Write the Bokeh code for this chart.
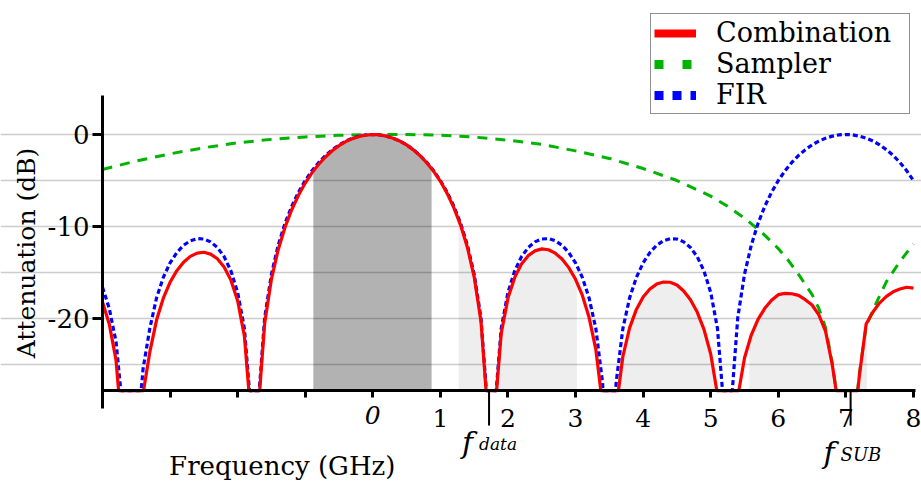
import numpy as np
from math import pi
from bokeh.plotting import figure
from bokeh.models import Range1d, FixedTicker, Label, Legend, LegendItem
from bokeh.embed import file_html
from bokeh.resources import INLINE

# ---------------- data ----------------
freq = [-4.0, -3.9, -3.8, -3.7, -3.6, -3.5, -3.4, -3.3, -3.2, -3.1,
        -3.0, -2.9, -2.8, -2.7, -2.6, -2.5, -2.4, -2.3, -2.2, -2.1,
        -2.0, -1.9, -1.8, -1.7, -1.6, -1.5, -1.4, -1.3, -1.2, -1.1,
        -1.0, -0.9, -0.8, -0.7, -0.6, -0.5, -0.4, -0.3, -0.2, -0.1,
        0.0, 0.1, 0.2, 0.3, 0.4, 0.5, 0.6, 0.7, 0.8, 0.9,
        1.0, 1.1, 1.2, 1.3, 1.4, 1.5, 1.6, 1.7, 1.8, 1.9,
        2.0, 2.1, 2.2, 2.3, 2.4, 2.5, 2.6, 2.7, 2.8, 2.9,
        3.0, 3.1, 3.2, 3.3, 3.4, 3.5, 3.6, 3.7, 3.8, 3.9,
        4.0, 4.1, 4.2, 4.3, 4.4, 4.5, 4.6, 4.7, 4.8, 4.9,
        5.0, 5.1, 5.2, 5.3, 5.4, 5.5, 5.6, 5.7, 5.8, 5.9,
        6.0, 6.1, 6.2, 6.3, 6.4, 6.5, 6.6, 6.7, 6.8, 6.9,
        7.0, 7.1, 7.2, 7.3, 7.4, 7.5, 7.6, 7.7, 7.8, 7.9, 8.0]

fir_db = [-16.6, -18.9, -22.5, -30.0, -45.0, -34.0, -25.5, -21.09, -17.76, -15.53,
          -13.96, -12.83, -12.04, -11.55, -11.32, -11.36, -11.67, -12.28, -13.28, -14.82,
          -17.16, -21.08, -30.17, -29.78, -19.91, -15.19, -12.04, -9.67, -7.81, -6.28,
          -5.01, -3.94, -3.04, -2.28, -1.65, -1.13, -0.71, -0.40, -0.18, -0.04,
          0.0, -0.04, -0.18, -0.40, -0.71, -1.13, -1.65, -2.28, -3.04, -3.94,
          -5.01, -6.28, -7.81, -9.67, -12.04, -15.19, -19.91, -29.78, -30.17, -21.08,
          -17.16, -14.82, -13.28, -12.28, -11.67, -11.36, -11.32, -11.55, -12.04, -12.83,
          -13.96, -15.53, -17.76, -21.09, -27.00, -45.0, -27.00, -21.09, -17.76, -15.53,
          -13.96, -12.83, -12.04, -11.55, -11.32, -11.36, -11.67, -12.28, -13.28, -14.82,
          -17.16, -21.08, -30.17, -29.78, -19.91, -15.19, -12.04, -9.67, -7.81, -6.28,
          -5.01, -3.94, -3.04, -2.28, -1.65, -1.13, -0.71, -0.40, -0.18, -0.04,
          0.0, -0.04, -0.18, -0.40, -0.71, -1.13, -1.65, -2.28, -3.04, -3.94, -5.01]

comb_db = [-18.2, -20.6, -24.5, -33.2, -48.1, -36.9, -28.2, -23.66, -20.17, -17.79,
           -16.06, -14.80, -13.88, -13.25, -12.89, -12.80, -13.00, -13.50, -14.40, -15.83,
           -18.06, -21.91, -30.92, -30.46, -20.51, -15.72, -12.52, -10.10, -8.18, -6.60,
           -5.28, -4.17, -3.23, -2.44, -1.77, -1.21, -0.77, -0.45, -0.21, -0.06,
           0.0, -0.04, -0.18, -0.40, -0.71, -1.13, -1.67, -2.31, -3.09, -4.00,
           -5.09, -6.40, -7.97, -9.87, -12.28, -15.47, -20.26, -30.20, -30.65, -21.63,
           -17.78, -15.53, -14.08, -13.17, -12.65, -12.43, -12.53, -12.90, -13.54, -14.47,
           -15.74, -17.47, -19.87, -23.36, -29.44, -47.6, -29.82, -24.13, -21.02, -19.01,
           -17.66, -16.79, -16.26, -16.03, -16.06, -16.36, -17.01, -17.96, -19.30, -21.18,
           -23.86, -28.26, -37.83, -37.92, -28.53, -24.29, -21.80, -20.09, -18.89, -18.02,
           -17.41, -17.27, -17.31, -17.48, -17.95, -18.53, -19.61, -21.40, -25.08, -30.04,
           -45.0, -33.0, -26.2, -20.6, -19.3, -18.3, -17.6, -17.1, -16.8, -16.6, -16.7]

samp_freq = [-4.0, -3.5, -3.0, -2.5, -2.0, -1.5, -1.0, -0.5, 0.0, 0.5,
             1.0, 1.5, 2.0, 2.5, 3.0, 3.5, 4.0, 4.5, 5.0, 5.25,
             5.5, 5.75, 6.0, 6.15, 6.3, 6.5, 6.6, 6.7, 6.8, 6.9,
             7.0, 7.1, 7.2, 7.3, 7.45, 7.6, 7.8, 8.0]
samp_db = [-3.8, -2.88, -2.1, -1.44, -0.9, -0.53, -0.27, -0.08, 0.0, 0.0,
           -0.08, -0.28, -0.62, -1.07, -1.78, -2.6, -3.7, -5.0, -6.7, -7.8,
           -9.1, -10.6, -12.4, -13.7, -15.2, -17.4, -18.9, -21.0, -24.9, -30.0,
           -45.0, -33.0, -26.0, -20.8, -18.3, -16.0, -13.8, -11.9]

pass_band = (-0.88, 0.87)
alias_bands = [(1.27, 3.02), (3.42, 5.16), (5.57, 7.31)]

x_ticks = [-4, -3, -2, -1, 0, 1, 2, 3, 4, 5, 6, 7, 8]
x_hidden_labels = [-4, -3, -2, -1, 0]
y_ticks = [-20, -10, 0]
y_tick_labels = {-20: "-20", -10: "-10", 0: "0"}
y_grid = [-25, -20, -15, -10, -5, 0]
f_data = 1.72
f_sub = 7.07

series_names = ["Combination", "Sampler", "FIR"]
colors = {"Combination": "#ff0000", "Sampler": "#00b300", "FIR": "#0000ff"}

# ---------------- figure geometry ----------------
# the frame covers the whole canvas; axes are fixed inside it
X_MIN, X_MAX = -5.509, 8.119
Y_MIN, Y_MAX = -38.26, 14.565
AX_Y = -27.83        # level of the x axis (bottom of the plotted area)
AX_X = -4.0          # level of the y axis
PX_PER_DB = 9.2
SERIF = "DejaVu Serif"
TXT_UP = 9           # pixel lift applied to free text labels

p = figure(width=921, height=486,
           x_range=Range1d(X_MIN, X_MAX), y_range=Range1d(Y_MIN, Y_MAX),
           output_backend="svg", toolbar_location=None,
           min_border_left=0, min_border_right=0,
           min_border_top=0, min_border_bottom=0)
p.outline_line_color = None
p.background_fill_color = "white"
p.border_fill_color = "white"
p.xgrid.visible = False
p.ygrid.ticker = FixedTicker(ticks=y_grid)
p.ygrid.bounds = (AX_X, 8.1)
p.ygrid.grid_line_color = "#cccccc"
p.ygrid.grid_line_width = 1.5


def clamp_line(xs, ys, ybot):
    """Keep a polyline above ybot: insert crossing points, flatten below."""
    ox, oy = [], []
    for i in range(len(xs)):
        if i > 0:
            y0, y1 = ys[i - 1], ys[i]
            if (y0 - ybot) * (y1 - ybot) < 0:
                t = (ybot - y0) / (y1 - y0)
                ox.append(xs[i - 1] + t * (xs[i] - xs[i - 1]))
                oy.append(ybot)
        ox.append(xs[i])
        oy.append(max(ys[i], ybot))
    return ox, oy


cx, cy = clamp_line(freq, comb_db, AX_Y)
fx_, fy_ = clamp_line(freq, fir_db, AX_Y)
sx_, sy_ = clamp_line(samp_freq, samp_db, AX_Y)

# shaded bands under the combination curve
cxa = np.array(cx)
cya = np.array(cy)


def band(a, b):
    inner = cxa[(cxa > a) & (cxa < b)]
    xs = np.concatenate([[a], inner, [b]])
    ys = np.interp(xs, cxa, cya)
    return xs, ys


for a, b in alias_bands:
    xs, ys = band(a, b)
    p.varea(x=xs, y1=AX_Y, y2=ys, fill_color="black", fill_alpha=0.065)
xs, ys = band(*pass_band)
p.varea(x=xs, y1=AX_Y, y2=ys, fill_color="black", fill_alpha=0.3)

# curves
p.line(sx_, sy_, line_color=colors["Sampler"], line_width=3, line_dash="10 8")
p.line(fx_, fy_, line_color=colors["FIR"], line_width=3.2, line_dash="5 3")
p.line(cx, cy, line_color=colors["Combination"], line_width=3.2)

# f_data / f_SUB marker strokes below the axis
mark_len_db = 35 / PX_PER_DB
p.segment(x0=[f_data, f_sub], y0=[AX_Y, AX_Y],
          x1=[f_data, f_sub], y1=[AX_Y - mark_len_db, AX_Y - mark_len_db],
          line_color="black", line_width=2)

# legend (off-canvas proxy renderers with thicker strokes)
far_x = [X_MIN - 10, X_MIN - 9]
far_y = [Y_MIN - 10, Y_MIN - 10]
leg_c = p.line(far_x, far_y, line_color=colors["Combination"], line_width=8)
leg_s = p.line(far_x, far_y, line_color=colors["Sampler"], line_width=9,
               line_dash="9 19")
leg_f = p.line(far_x, far_y, line_color=colors["FIR"], line_width=9,
               line_dash="9 9")
legend = Legend(items=[LegendItem(label=series_names[0], renderers=[leg_c]),
                       LegendItem(label=series_names[1], renderers=[leg_s]),
                       LegendItem(label=series_names[2], renderers=[leg_f])],
                location=(650, 372), margin=0, padding=3,
                glyph_width=42, glyph_height=30, label_height=30,
                label_width=190, label_standoff=20, spacing=0,
                label_text_font=SERIF, label_text_font_size="27px",
                label_text_color="black",
                border_line_color="#222222", border_line_width=1.5,
                background_fill_color="white", background_fill_alpha=1.0)
p.add_layout(legend)

# x axis, fixed at the bottom of the plotted area
xa = p.xaxis[0]
xa.fixed_location = AX_Y
xa.bounds = (AX_X, 8.03)
xa.ticker = FixedTicker(ticks=x_ticks)
xa.major_label_overrides = {k: "" for k in x_hidden_labels}
xa.axis_line_width = 3
xa.axis_line_color = "black"
xa.major_tick_line_width = 3
xa.major_tick_line_color = "black"
xa.major_tick_out = 7
xa.major_tick_in = 0
xa.minor_tick_out = 0
xa.minor_tick_in = 0
xa.major_label_standoff = 11
xa.major_label_text_font = SERIF
xa.major_label_text_font_size = "25px"
xa.major_label_text_color = "black"

# y axis, fixed at f = -4
ya = p.yaxis[0]
ya.fixed_location = AX_X
ya.bounds = (-29.8, 4.24)
ya.ticker = FixedTicker(ticks=y_ticks)
ya.major_label_overrides = y_tick_labels
ya.axis_line_width = 3
ya.axis_line_color = "black"
ya.major_tick_line_width = 3
ya.major_tick_line_color = "black"
ya.major_tick_out = 10
ya.major_tick_in = 0
ya.minor_tick_out = 0
ya.minor_tick_in = 0
ya.major_label_standoff = 3
ya.major_label_text_font = SERIF
ya.major_label_text_font_size = "26px"
ya.major_label_text_color = "black"

# italic zero tick label
p.add_layout(Label(x=0, y=-31.52, y_offset=TXT_UP, text="0", text_font=SERIF,
                   text_font_style="italic", text_font_size="25px",
                   text_align="center", text_baseline="alphabetic",
                   text_color="black"))

# f_data / f_SUB labels
for xpos, sub, sub_size, fy, sy in [(f_data, "data", "17px", -34.46, -34.67),
                                    (f_sub, "SUB", "18px", -35.54, -35.76)]:
    p.add_layout(Label(x=xpos, y=fy, x_offset=-27, y_offset=TXT_UP, text="f",
                       text_font=SERIF, text_font_style="italic",
                       text_font_size="30px", text_align="left",
                       text_baseline="alphabetic", text_color="black"))
    p.add_layout(Label(x=xpos, y=sy, x_offset=-10, y_offset=TXT_UP, text=sub,
                       text_font=SERIF, text_font_style="italic",
                       text_font_size=sub_size, text_align="left",
                       text_baseline="alphabetic", text_color="black"))

# axis titles
p.add_layout(Label(x=-1.34, y=-36.96, y_offset=TXT_UP, text="Frequency (GHz)",
                   text_font=SERIF, text_font_size="26px", text_align="center",
                   text_baseline="alphabetic", text_color="black"))
p.add_layout(Label(x=-5.125, y=-12.88, text="Attenuation (dB)", text_font=SERIF,
                   text_font_size="25px", text_align="center",
                   text_baseline="middle", angle=pi / 2, text_color="black"))

open("out.html", "w").write(file_html(p, INLINE))
